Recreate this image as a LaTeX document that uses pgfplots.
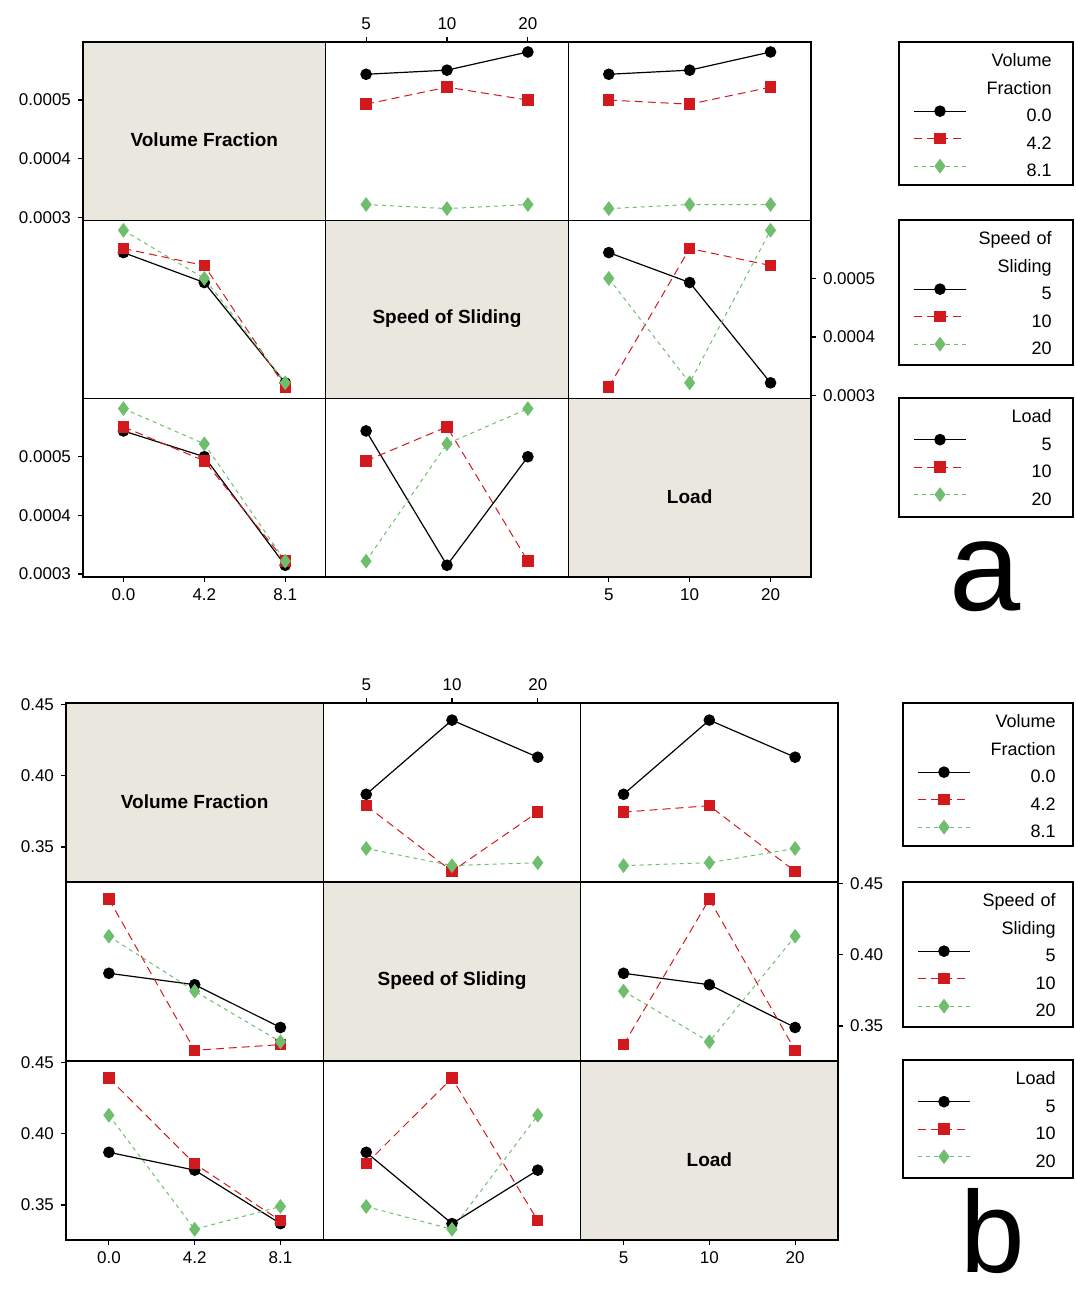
\documentclass[border=0pt]{standalone}
\usepackage{pgfplots}
\pgfplotsset{compat=1.18}
\usepackage{fontspec}
\setmainfont{Liberation Sans}
\definecolor{diagfill}{RGB}{234,231,223}
\definecolor{myred}{RGB}{210,25,30}
\definecolor{mygreen}{RGB}{110,190,110}
\newcommand\tickfont{\fontsize{8.5}{10}\selectfont}
\newcommand\labfont{\fontsize{9.5}{11}\selectfont\bfseries}
\newcommand\legfont{\fontsize{9}{11}\selectfont}
\pgfplotsset{
 cell/.style={scale only axis, anchor=north west, xmin=0.5, xmax=3.5, xtick=\empty, ytick=\empty,
   axis line style={line width=0.8pt}, tick align=outside, major tick length=2.5pt,
   tick style={black, line width=0.6pt}, ticklabel style={font=\tickfont}, clip=false,
   xtick pos=left, ytick pos=left, scaled y ticks=false, scaled x ticks=false},
 diag/.style={axis background/.style={fill=diagfill}},
 PA/.style={cell, width=121.33pt, height=89.17pt, ymin=0.000295, ymax=0.000599},
 PB/.style={cell, width=128.67pt, height=89.5pt, ymin=0.3255, ymax=0.451},
 yA/.style={ytick={0.0003,0.0004,0.0005}, yticklabels={0.0003,0.0004,0.0005}},
 yB/.style={ytick={0.35,0.40,0.45}, yticklabels={0.35,0.40,0.45}},
 xVF/.style={xtick={1,2,3}, xticklabels={0.0,4.2,8.1}},
 xLV/.style={xtick={1,2,3}, xticklabels={5,10,20}},
 xTop/.style={xtick={1,2,3}, xticklabels={5,10,20}, xtick pos=right, xticklabel pos=right},
 yRight/.style={ytick pos=right, yticklabel pos=right},
 s1/.style={black, solid, line width=0.6pt, mark=*, mark size=2.6pt, mark options={solid}},
 s2/.style={myred, dash pattern=on 4pt off 2.5pt, line width=0.5pt, mark=square*, mark size=2.6pt, mark options={solid}},
 s3/.style={mygreen, dash pattern=on 2pt off 2pt, line width=0.5pt, mark=diamond*, mark size=3.3pt, mark options={solid}},
 legbox/.style={scale only axis, anchor=north west, xmin=0, xmax=1, ymin=0, ymax=1,
   xtick=\empty, ytick=\empty, axis line style={line width=0.6pt},
   legend cell align=right,
   legend image code/.code={\draw[mark repeat=2,mark phase=2] plot coordinates {(0pt,3.2pt)(13pt,3.2pt)(26pt,3.2pt)};},
   legend style={at={(0,1)}, anchor=north west, draw=none, fill=none, inner sep=0pt,
     xshift=7pt, yshift=-3.2pt, column sep=2.5pt, row sep=0pt,
     nodes={inner sep=0pt, text width=40pt, align=right, text height=9pt, text depth=4.75pt, font=\legfont}}},
}
\begin{document}
\begin{tikzpicture}
\useasboundingbox (0,0) rectangle (538pt,-648pt);
% ================= Panel a =================
\begin{axis}[PA, diag, yA, at={(41.5pt,-21pt)}]
\node at (rel axis cs:0.5,0.45) {\labfont Volume Fraction};
\end{axis}
\begin{axis}[PA, xTop, at={(162.83pt,-21pt)}]
\addplot[s1] coordinates {(1,0.000544)(2,0.000551)(3,0.000582)};
\addplot[s2] coordinates {(1,0.000493)(2,0.000522)(3,0.000500)};
\addplot[s3] coordinates {(1,0.000322)(2,0.000315)(3,0.000322)};
\end{axis}
\begin{axis}[PA, at={(284.17pt,-21pt)}]
\addplot[s1] coordinates {(1,0.000544)(2,0.000551)(3,0.000582)};
\addplot[s2] coordinates {(1,0.000500)(2,0.000493)(3,0.000522)};
\addplot[s3] coordinates {(1,0.000315)(2,0.000322)(3,0.000322)};
\end{axis}
\begin{axis}[PA, at={(41.5pt,-110.17pt)}]
\addplot[s1] coordinates {(1,0.000544)(2,0.000493)(3,0.000322)};
\addplot[s2] coordinates {(1,0.000551)(2,0.000522)(3,0.000315)};
\addplot[s3] coordinates {(1,0.000582)(2,0.000500)(3,0.000322)};
\end{axis}
\begin{axis}[PA, diag, at={(162.83pt,-110.17pt)}]
\node at (rel axis cs:0.5,0.45) {\labfont Speed of Sliding};
\end{axis}
\begin{axis}[PA, yA, yRight, at={(284.17pt,-110.17pt)}]
\addplot[s1] coordinates {(1,0.000544)(2,0.000493)(3,0.000322)};
\addplot[s2] coordinates {(1,0.000315)(2,0.000551)(3,0.000522)};
\addplot[s3] coordinates {(1,0.000500)(2,0.000322)(3,0.000582)};
\end{axis}
\begin{axis}[PA, yA, xVF, at={(41.5pt,-199.33pt)}]
\addplot[s1] coordinates {(1,0.000544)(2,0.000500)(3,0.000315)};
\addplot[s2] coordinates {(1,0.000551)(2,0.000493)(3,0.000322)};
\addplot[s3] coordinates {(1,0.000582)(2,0.000522)(3,0.000322)};
\end{axis}
\begin{axis}[PA, at={(162.83pt,-199.33pt)}]
\addplot[s1] coordinates {(1,0.000544)(2,0.000315)(3,0.000500)};
\addplot[s2] coordinates {(1,0.000493)(2,0.000551)(3,0.000322)};
\addplot[s3] coordinates {(1,0.000322)(2,0.000522)(3,0.000582)};
\end{axis}
\begin{axis}[PA, diag, xLV, at={(284.17pt,-199.33pt)}]
\node at (rel axis cs:0.5,0.45) {\labfont Load};
\end{axis}
% legends a
\begin{axis}[legbox, width=87pt, height=71.5pt, at={(449.5pt,-21pt)}]
\addlegendimage{empty legend}\addlegendentry{Volume}
\addlegendimage{empty legend}\addlegendentry{Fraction}
\addlegendimage{s1}\addlegendentry{0.0}
\addlegendimage{s2}\addlegendentry{4.2}
\addlegendimage{s3}\addlegendentry{8.1}
\end{axis}
\begin{axis}[legbox, width=87pt, height=72.5pt, at={(449.5pt,-110pt)}]
\addlegendimage{empty legend}\addlegendentry{Speed of}
\addlegendimage{empty legend}\addlegendentry{Sliding}
\addlegendimage{s1}\addlegendentry{5}
\addlegendimage{s2}\addlegendentry{10}
\addlegendimage{s3}\addlegendentry{20}
\end{axis}
\begin{axis}[legbox, width=87pt, height=59.5pt, at={(449.5pt,-199pt)}]
\addlegendimage{empty legend}\addlegendentry{Load}
\addlegendimage{s1}\addlegendentry{5}
\addlegendimage{s2}\addlegendentry{10}
\addlegendimage{s3}\addlegendentry{20}
\end{axis}
\node[font=\fontsize{64}{64}\selectfont, anchor=base, inner sep=0pt] at (492.5pt,-305pt) {a};
% ================= Panel b =================
\begin{axis}[PB, diag, yB, at={(33pt,-351.5pt)}]
\node at (rel axis cs:0.5,0.45) {\labfont Volume Fraction};
\end{axis}
\begin{axis}[PB, xTop, at={(161.67pt,-351.5pt)}]
\addplot[s1] coordinates {(1,0.387)(2,0.439)(3,0.413)};
\addplot[s2] coordinates {(1,0.379)(2,0.333)(3,0.3745)};
\addplot[s3] coordinates {(1,0.349)(2,0.337)(3,0.339)};
\end{axis}
\begin{axis}[PB, at={(290.33pt,-351.5pt)}]
\addplot[s1] coordinates {(1,0.387)(2,0.439)(3,0.413)};
\addplot[s2] coordinates {(1,0.3745)(2,0.379)(3,0.333)};
\addplot[s3] coordinates {(1,0.337)(2,0.339)(3,0.349)};
\end{axis}
\begin{axis}[PB, at={(33pt,-441pt)}]
\addplot[s1] coordinates {(1,0.387)(2,0.379)(3,0.349)};
\addplot[s2] coordinates {(1,0.439)(2,0.333)(3,0.337)};
\addplot[s3] coordinates {(1,0.413)(2,0.3745)(3,0.339)};
\end{axis}
\begin{axis}[PB, diag, at={(161.67pt,-441pt)}]
\node at (rel axis cs:0.5,0.45) {\labfont Speed of Sliding};
\end{axis}
\begin{axis}[PB, yB, yRight, at={(290.33pt,-441pt)}]
\addplot[s1] coordinates {(1,0.387)(2,0.379)(3,0.349)};
\addplot[s2] coordinates {(1,0.337)(2,0.439)(3,0.333)};
\addplot[s3] coordinates {(1,0.3745)(2,0.339)(3,0.413)};
\end{axis}
\begin{axis}[PB, yB, xVF, at={(33pt,-530.5pt)}]
\addplot[s1] coordinates {(1,0.387)(2,0.3745)(3,0.337)};
\addplot[s2] coordinates {(1,0.439)(2,0.379)(3,0.339)};
\addplot[s3] coordinates {(1,0.413)(2,0.333)(3,0.349)};
\end{axis}
\begin{axis}[PB, at={(161.67pt,-530.5pt)}]
\addplot[s1] coordinates {(1,0.387)(2,0.337)(3,0.3745)};
\addplot[s2] coordinates {(1,0.379)(2,0.439)(3,0.339)};
\addplot[s3] coordinates {(1,0.349)(2,0.333)(3,0.413)};
\end{axis}
\begin{axis}[PB, diag, xLV, at={(290.33pt,-530.5pt)}]
\node at (rel axis cs:0.5,0.45) {\labfont Load};
\end{axis}
% legends b
\begin{axis}[legbox, width=85pt, height=71.5pt, at={(451.5pt,-351.5pt)}]
\addlegendimage{empty legend}\addlegendentry{Volume}
\addlegendimage{empty legend}\addlegendentry{Fraction}
\addlegendimage{s1}\addlegendentry{0.0}
\addlegendimage{s2}\addlegendentry{4.2}
\addlegendimage{s3}\addlegendentry{8.1}
\end{axis}
\begin{axis}[legbox, width=85pt, height=72.5pt, at={(451.5pt,-441pt)}]
\addlegendimage{empty legend}\addlegendentry{Speed of}
\addlegendimage{empty legend}\addlegendentry{Sliding}
\addlegendimage{s1}\addlegendentry{5}
\addlegendimage{s2}\addlegendentry{10}
\addlegendimage{s3}\addlegendentry{20}
\end{axis}
\begin{axis}[legbox, width=85pt, height=59pt, at={(451.5pt,-530pt)}]
\addlegendimage{empty legend}\addlegendentry{Load}
\addlegendimage{s1}\addlegendentry{5}
\addlegendimage{s2}\addlegendentry{10}
\addlegendimage{s3}\addlegendentry{20}
\end{axis}
\node[font=\fontsize{58}{58}\selectfont, anchor=base, inner sep=0pt] at (496.5pt,-636pt) {b};
\end{tikzpicture}
\end{document}
